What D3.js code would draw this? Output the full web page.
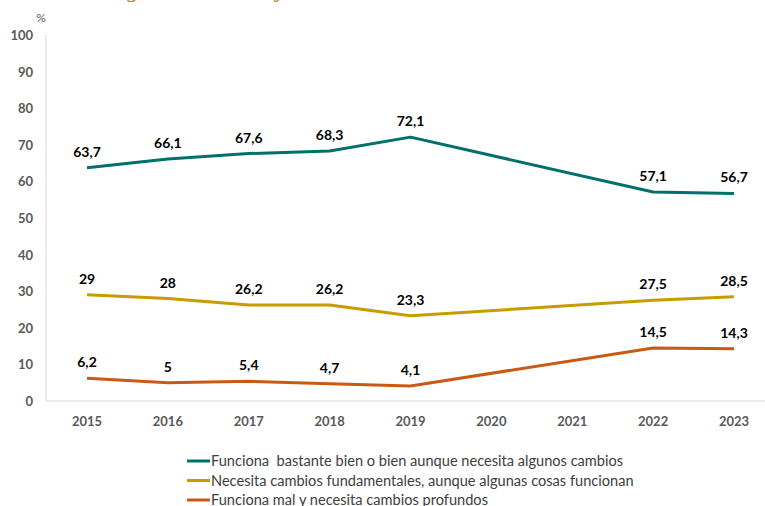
<!DOCTYPE html>
<html lang="es">
<head>
<meta charset="utf-8">
<title>Opinión sobre el sistema</title>
<style>
  html,body{margin:0;background:#fff;overflow:hidden;}
  svg{display:block;font-family:Lato,"Open Sans",sans-serif;}
</style>
</head>
<body>
<div id="chart"></div>
<script src="https://cdn.jsdelivr.net/npm/d3@7"></script>
<script>
// data
const years = [2015, 2016, 2017, 2018, 2019, 2020, 2021, 2022, 2023];
const dataYears = [2015, 2016, 2017, 2018, 2019, 2022, 2023];
const seriesNames = [
  "Funciona  bastante bien o bien aunque necesita algunos cambios",
  "Necesita cambios fundamentales, aunque algunas cosas funcionan",
  "Funciona mal y necesita cambios profundos"
];
const bienValues = [63.7, 66.1, 67.6, 68.3, 72.1, 57.1, 56.7];
const cambiosValues = [29, 28, 26.2, 26.2, 23.3, 27.5, 28.5];
const malValues = [6.2, 5, 5.4, 4.7, 4.1, 14.5, 14.3];
const colors = ["#00706b", "#c69c00", "#c85a14"];
const yTicks = [0, 10, 20, 30, 40, 50, 60, 70, 80, 90, 100];

const W = 765, H = 506;
const svg = d3.select("#chart").append("svg")
  .attr("width", W).attr("height", H);

// title, cropped at the top edge like the reference
svg.append("text")
  .attr("x", 16).attr("y", -3)
  .attr("font-family", "'Liberation Serif',serif")
  .attr("font-style", "italic")
  .attr("font-size", 24)
  .attr("fill", "#b8862b")
  .text("Valoración global del SNS y");

const x = d3.scalePoint().domain(years).range([87, 734]);
const y = d3.scaleLinear().domain([0, 100]).range([401, 35]);

// axis lines
svg.append("line")
  .attr("x1", 46).attr("x2", 46).attr("y1", y(100)).attr("y2", y(0))
  .attr("stroke", "#d9d9d9").attr("stroke-width", 1);
svg.append("line")
  .attr("x1", 46).attr("x2", W).attr("y1", y(0)).attr("y2", y(0))
  .attr("stroke", "#d9d9d9").attr("stroke-width", 1);

// y tick labels
svg.append("g").selectAll("text")
  .data(yTicks).enter().append("text")
  .attr("x", 33).attr("y", d => y(d) + 5)
  .attr("text-anchor", "end")
  .attr("font-size", 13).attr("font-weight", "bold")
  .attr("fill", "#595959")
  .text(d => d);

svg.append("text")
  .attr("x", 41).attr("y", 22)
  .attr("text-anchor", "middle")
  .attr("font-size", 12)
  .attr("fill", "#595959")
  .text("%");

// x tick labels
svg.append("g").selectAll("text")
  .data(years).enter().append("text")
  .attr("x", d => x(d)).attr("y", 426)
  .attr("text-anchor", "middle")
  .attr("font-size", 13).attr("font-weight", "bold")
  .attr("fill", "#595959")
  .text(d => d);

const allSeries = [bienValues, cambiosValues, malValues];
const line = d3.line()
  .x(d => x(d.year))
  .y(d => y(d.value));

const fmt = v => String(v).replace(".", ",");

allSeries.forEach((vals, i) => {
  const pts = dataYears.map((yr, k) => ({year: yr, value: vals[k]}));
  svg.append("path")
    .datum(pts)
    .attr("d", line)
    .attr("fill", "none")
    .attr("stroke", colors[i])
    .attr("stroke-width", 3)
    .attr("stroke-linejoin", "round");

  svg.append("g").selectAll("text")
    .data(pts).enter().append("text")
    .attr("x", d => x(d.year))
    .attr("y", d => y(d.value) - 11)
    .attr("text-anchor", "middle")
    .attr("font-size", 14).attr("font-weight", "bold")
    .attr("fill", "#000")
    .text(d => fmt(d.value));
});

// legend
const leg = svg.append("g");
seriesNames.forEach((name, i) => {
  const ly = 461 + i * 19.5;
  leg.append("line")
    .attr("x1", 187).attr("x2", 210).attr("y1", ly).attr("y2", ly)
    .attr("stroke", colors[i]).attr("stroke-width", 3);
  leg.append("text")
    .attr("x", 211).attr("y", ly + 5)
    .attr("font-size", 14.6)
    .attr("fill", "#404040")
    .style("white-space", "pre")
    .text(name);
});
</script>
</body>
</html>
